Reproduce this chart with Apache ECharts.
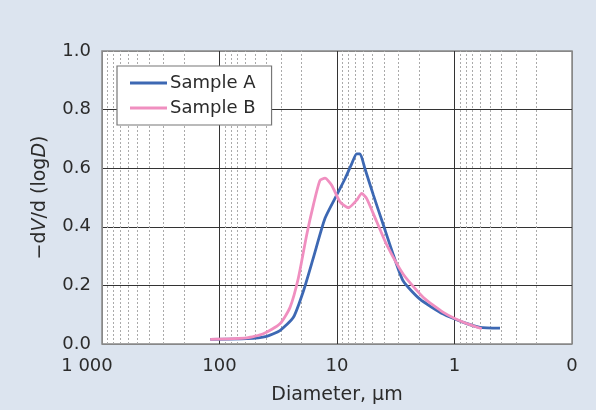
<!DOCTYPE html>
<html><head><meta charset="utf-8">
<script src="https://cdn.jsdelivr.net/npm/echarts@6/dist/echarts.min.js"></script>
<style>html,body{margin:0;padding:0;background:#dce4ef}#c{width:596px;height:410px}</style>
</head><body><div id="c"></div>
<script>
// Diameter (µm) and -dV/d(logD) values
const diamA = [120, 58.7, 39.7, 30.6, 23.5, 19.3, 15.9, 12.65, 10.07, 8.55, 7.5, 6.8, 6.37, 5.78, 4.9, 4.03, 3.32, 2.73, 1.97, 1.245, 0.84, 0.607, 0.41];
const valA  = [0.016, 0.018, 0.026, 0.046, 0.091, 0.181, 0.294, 0.429, 0.508, 0.564, 0.615, 0.649, 0.649, 0.598, 0.508, 0.406, 0.305, 0.215, 0.153, 0.102, 0.074, 0.057, 0.054];
const diamB = [120, 58.7, 42.4, 30.6, 25.1, 21.3, 18.1, 15.9, 13.97, 12.65, 11.1, 9.42, 8.01, 6.8, 6.17, 5.6, 4.6, 3.78, 2.73, 1.84, 1.245, 0.84, 0.586];
const valB  = [0.016, 0.021, 0.035, 0.069, 0.125, 0.226, 0.373, 0.474, 0.558, 0.566, 0.542, 0.485, 0.465, 0.491, 0.514, 0.497, 0.418, 0.339, 0.238, 0.159, 0.108, 0.074, 0.052];
const seriesNames = ['Sample A', 'Sample B'];
const xTicks = [0.1, 1, 10, 100, 1000];
const minorMult = [2, 3, 4, 5, 6, 7, 8, 9];

const minorLines = [];
xTicks.slice(0, 4).forEach(d => minorMult.forEach(m => minorLines.push({ xAxis: +(d * m).toPrecision(3) })));

const font = '"DejaVu Sans", Verdana, sans-serif';
const txt = '#2b2b2b';
const chart = echarts.init(document.getElementById('c'), null, { renderer: 'canvas' });
chart.setOption({
  backgroundColor: '#dce4ef',
  animation: false,
  textStyle: { fontFamily: font },
  grid: { left: 102, right: 24, top: 51, bottom: 63, show: true, backgroundColor: '#fff', borderColor: '#888', borderWidth: 1.5 },
  legend: {
    data: seriesNames, orient: 'vertical', left: 117, top: 66,
    backgroundColor: '#fff', borderColor: '#777', borderWidth: 1.2,
    padding: [8, 16, 8, 13], itemGap: 7, itemWidth: 37, itemHeight: 3, icon: 'rect',
    textStyle: { fontSize: 18, color: txt, fontFamily: font, padding: [0, 0, 0, -2] }
  },
  xAxis: {
    type: 'log', logBase: 10, min: 0.1, max: 1000, inverse: true,
    name: 'Diameter, µm', nameLocation: 'middle', nameGap: 42,
    nameTextStyle: { fontSize: 19, color: txt, fontFamily: font },
    axisLine: { show: false }, axisTick: { show: false },
    axisLabel: {
      fontSize: 18, color: txt, margin: 13, fontFamily: font,
      formatter: v => v >= 1000 ? '{a|1 000}' : (v < 1 ? '0' : String(Math.round(v))),
      rich: { a: { fontSize: 18, color: txt, fontFamily: font, padding: [0, 30, 0, 0] } }
    },
    splitLine: { show: true, lineStyle: { color: ['#888', '#333', '#333', '#333', '#888'], width: 1 } }
  },
  yAxis: {
    type: 'value', min: 0, max: 1, interval: 0.2,
    name: '{n|−d}{i|V}{n|/d (log}{i|D}{n|)}', nameLocation: 'middle', nameGap: 52, nameRotate: 90,
    nameTextStyle: { rich: { n: { fontSize: 19, color: txt, fontFamily: font }, i: { fontSize: 19, color: txt, fontStyle: 'italic', fontFamily: font } } },
    axisLine: { show: false }, axisTick: { show: false },
    axisLabel: { fontSize: 18, color: txt, margin: 11, fontFamily: font, formatter: v => v.toFixed(1) },
    splitLine: { show: true, lineStyle: { color: ['#888', '#333', '#333', '#333', '#333', '#888'], width: 1 } }
  },
  series: [
    {
      name: 'minor', type: 'line', data: [], z: 1, silent: true,
      markLine: { silent: true, symbol: 'none', label: { show: false }, z: 1,
        lineStyle: { color: '#aaa', type: [2, 2], width: 1 }, data: minorLines }
    },
    {
      name: seriesNames[0], type: 'line', symbol: 'none', smooth: 0.2, z: 4,
      lineStyle: { color: '#3d68b3', width: 2.8 }, itemStyle: { color: '#3d68b3' },
      data: diamA.map((d, i) => [d, valA[i]])
    },
    {
      name: seriesNames[1], type: 'line', symbol: 'none', smooth: 0.2, z: 5,
      lineStyle: { color: '#f08fc0', width: 2.8 }, itemStyle: { color: '#f08fc0' },
      data: diamB.map((d, i) => [d, valB[i]])
    }
  ]
});
</script></body></html>
